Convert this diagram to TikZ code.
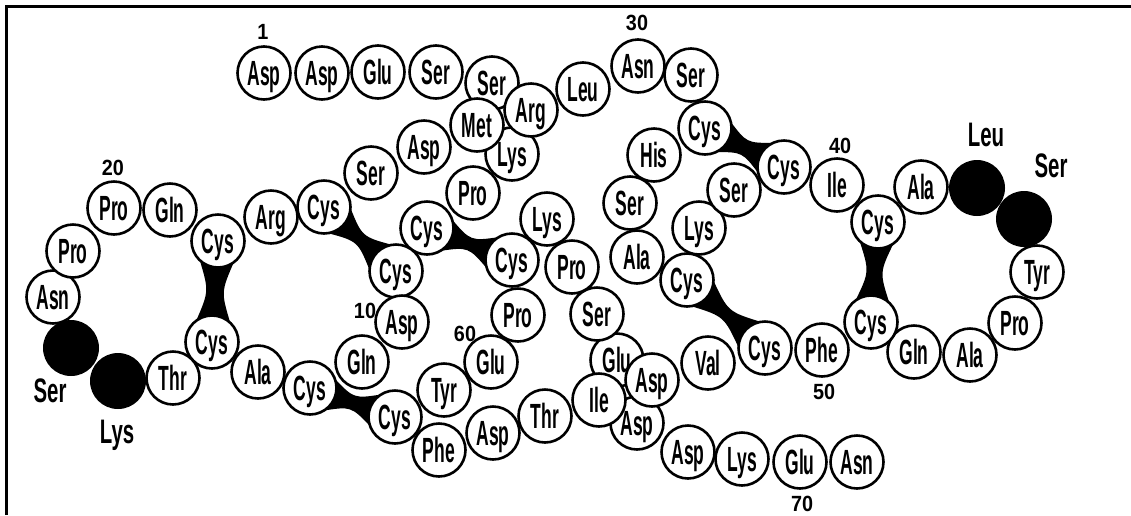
\documentclass[tikz,border=0pt]{standalone}
\usepackage{fontspec}
\usetikzlibrary{calc,backgrounds}
\newfontfamily\aaf[FakeStretch=0.5]{Liberation Sans}
\newfontfamily\lbf[FakeStretch=0.6]{Liberation Sans}
\newfontfamily\numf[FakeStretch=0.9]{Liberation Sans}
\newcommand\ssbond[3][3pt]{%
  \fill[black] ($(#2)!26pt!42:(#3)$) .. controls ($(#2)!0.5!(#3)!#1!90:(#3)$) .. ($(#3)!26pt!-42:(#2)$)
   -- ($(#3)!26pt!42:(#2)$) .. controls ($(#2)!0.5!(#3)!#1!-90:(#3)$) .. ($(#2)!26pt!-42:(#3)$) -- cycle;}
\tikzset{
  aa/.style={circle, draw=black, line width=2.6pt, fill=white, minimum size=53pt, inner sep=0pt,
     font=\aaf\bfseries\fontsize{35}{35}\selectfont, text height=24pt, text depth=0pt},
  blk/.style={circle, fill=black, minimum size=56pt, inner sep=0pt},
  lab/.style={font=\lbf\bfseries\fontsize{34}{34}\selectfont, inner sep=0pt, text height=24pt, text depth=0pt},
  num/.style={font=\numf\bfseries\fontsize{22}{22}\selectfont, inner sep=0pt, text height=16pt, text depth=0pt},
  frameline/.style={line width=3pt}
}
\begin{document}
\begin{tikzpicture}[x=1pt,y=-1pt]
\useasboundingbox (0,0) rectangle (1131,515);
\draw[frameline] (6.5,515) -- (6.5,6.5) -- (1131,6.5);
% residues behind others
\node[aa] (a54) at (617,360) {Glu};
\node[aa] (a67) at (637,423) {Asp};
\node[aa] (a1) at (264,73) {Asp};
\node[aa] (a2) at (322,73) {Asp};
\node[aa] (a3) at (378,72) {Glu};
\node[aa] (a4) at (436,72) {Ser};
\node[aa] (a5) at (492,83) {Ser};
\node[aa] (a6) at (512,154) {Lys};
\node[aa] (a7) at (473,193) {Pro};
\node[aa] (a8) at (427,228) {Cys};
\node[aa] (a9) at (396,271) {Cys};
\node[aa] (a10) at (402,322) {Asp};
\node[aa] (a11) at (362,362) {Gln};
\node[aa] (a12) at (310,388) {Cys};
\node[aa] (a13) at (258,372) {Ala};
\node[aa] (a14) at (212,342) {Cys};
\node[aa] (a15) at (173,378) {Thr};
\node[blk] (a16) at (118,381) {};
\node[blk] (a17) at (71,348) {};
\node[aa] (a18) at (53,297) {Asn};
\node[aa] (a19) at (73,251) {Pro};
\node[aa] (a20) at (114,208) {Pro};
\node[aa] (a21) at (170,210) {Gln};
\node[aa] (a22) at (218,241) {Cys};
\node[aa] (a23) at (271,217) {Arg};
\node[aa] (a24) at (324,207) {Cys};
\node[aa] (a25) at (371,173) {Ser};
\node[aa] (a26) at (424,147) {Asp};
\node[aa] (a27) at (477,125) {Met};
\node[aa] (a28) at (531,110) {Arg};
\node[aa] (a29) at (583,89) {Leu};
\node[aa] (a30) at (638,66) {Asn};
\node[aa] (a31) at (691,75) {Ser};
\node[aa] (a32) at (705,128) {Cys};
\node[aa] (a33) at (654,155) {His};
\node[aa] (a34) at (630,203) {Ser};
\node[aa] (a35) at (637,257) {Ala};
\node[aa] (a36) at (687,280) {Cys};
\node[aa] (a37) at (699,228) {Lys};
\node[aa] (a38) at (734,190) {Ser};
\node[aa] (a39) at (784,167) {Cys};
\node[aa] (a40) at (837,185) {Ile};
\node[aa] (a41) at (878,222) {Cys};
\node[aa] (a42) at (921,187) {Ala};
\node[blk] (a43) at (977,188) {};
\node[blk] (a44) at (1024,219) {};
\node[aa] (a45) at (1037,272) {Tyr};
\node[aa] (a46) at (1015,323) {Pro};
\node[aa] (a47) at (970,355) {Ala};
\node[aa] (a48) at (914,352) {Gln};
\node[aa] (a49) at (871,322) {Cys};
\node[aa] (a50) at (822,350) {Phe};
\node[aa] (a51) at (765,348) {Cys};
\node[aa] (a52) at (708,363) {Val};
\node[aa] (a55) at (597,314) {Ser};
\node[aa] (a56) at (572,267) {Pro};
\node[aa] (a57) at (547,219) {Lys};
\node[aa] (a58) at (512,260) {Cys};
\node[aa] (a59) at (518,315) {Pro};
\node[aa] (a60) at (491,362) {Glu};
\node[aa] (a61) at (444,390) {Tyr};
\node[aa] (a62) at (395,417) {Cys};
\node[aa] (a63) at (439,450) {Phe};
\node[aa] (a64) at (493,433) {Asp};
\node[aa] (a65) at (545,416) {Thr};
\node[aa] (a66) at (599,400) {Ile};
\node[aa] (a53) at (652,380) {Asp};
\node[aa] (a68) at (688,452) {Asp};
\node[aa] (a69) at (742,459) {Lys};
\node[aa] (a70) at (800,462) {Glu};
\node[aa] (a71) at (857,462) {Asn};
% disulfide bridges
\begin{pgfonlayer}{background}
\ssbond[6pt]{a22}{a14}
\ssbond{a24}{a9}
\ssbond{a8}{a58}
\ssbond[4pt]{a12}{a62}
\ssbond[5pt]{a32}{a39}
\ssbond{a36}{a51}
\ssbond[5pt]{a41}{a49}
\end{pgfonlayer}
% labels
\node[lab] (l43) at (986,134) {Leu};
\node[lab] (l44) at (1051,165) {Ser};
\node[lab] (l17) at (50,390) {Ser};
\node[lab] (l16) at (117,431) {Lys};
\node[num] (n1) at (263,31) {1};
\node[num] (n10) at (365,310) {10};
\node[num] (n20) at (113,167) {20};
\node[num] (n30) at (637,22) {30};
\node[num] (n40) at (840,145) {40};
\node[num] (n50) at (824,391) {50};
\node[num] (n60) at (465,333) {60};
\node[num] (n70) at (802,503) {70};
\end{tikzpicture}
\end{document}
